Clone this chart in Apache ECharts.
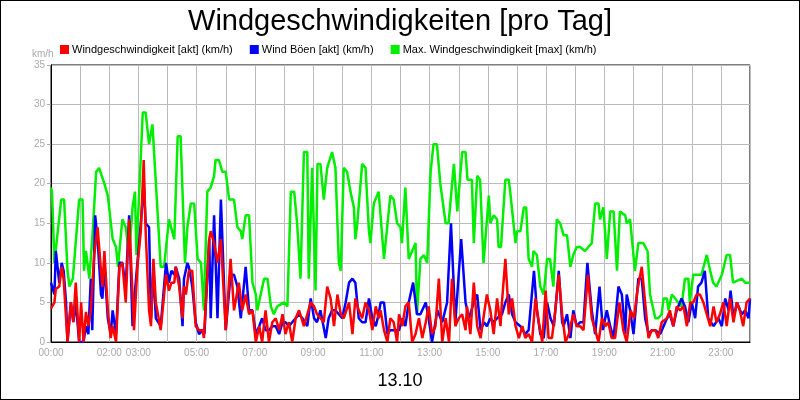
<!DOCTYPE html>
<html><head><meta charset="utf-8">
<script src="https://cdn.jsdelivr.net/npm/echarts@6/dist/echarts.min.js"></script>
<style>html,body{margin:0;padding:0}#c{width:798px;height:398px;border:1px solid #000}</style>
</head><body><div id="c"></div>
<script>
// minute of day, value (km/h)
const maxWind = [[0,19.5],[2,19],[7,10],[21,18],[27,18],[34,9],[38,7],[45,8],[48,8],[58,18],[65,18],[68,9],[72,11.5],[79,8],[86,14],[93,21.5],[99,22],[110,20],[117,18.5],[127,13],[134,12],[138,9.5],[147,15.5],[154,14.5],[161,11],[168,17],[173,19],[176,11],[189,29],[195,29],[202,25],[209,27.5],[219,17],[226,9.5],[233,9.5],[243,15.5],[247,15.5],[254,13],[261,26],[267,26],[276,10],[281,14.5],[288,17.5],[295,17.5],[302,10.5],[309,10],[315,4],[322,19],[329,19.5],[336,21],[339,23],[346,23],[353,21.5],[360,21.5],[367,18],[377,18],[384,14.5],[391,14],[394,13],[401,16],[408,16],[415,7.5],[422,6],[425,4],[432,6],[439,8],[446,8],[453,4.5],[459,3.5],[466,4.5],[480,5],[487,4.5],[494,19],[501,19],[507,15],[514,8],[521,24],[528,24],[531,8],[538,22],[542,22],[545,6.5],[549,22.5],[555,22.5],[562,18],[569,22],[579,24],[586,22],[593,10],[597,9],[603,22],[610,21.5],[617,19],[624,17],[627,13],[631,15],[641,22.5],[648,22],[655,14],[658,12.5],[665,17.5],[675,19],[686,10.5],[699,18.5],[706,18],[713,15],[720,14.5],[723,12.5],[730,19.5],[737,10.5],[741,10.5],[751,12.5],[754,3.5],[761,10.5],[768,11],[775,10],[782,21.5],[788,25],[795,25],[802,20],[813,15],[819,15],[830,22.5],[837,16.5],[847,24],[854,24],[858,20.5],[867,20.5],[871,12.5],[878,21],[884,20.5],[891,10],[902,18.5],[905,15],[912,16],[919,15.5],[922,12],[927,12],[936,20.5],[943,20.5],[946,19],[957,12.5],[960,14],[967,14],[974,17],[979,17],[984,10.5],[991,9.5],[994,11.5],[1001,11],[1008,7],[1015,6],[1022,10.5],[1028,10.5],[1035,7],[1042,15.5],[1049,15],[1056,13.5],[1063,13.5],[1070,9.5],[1076,11],[1083,12],[1090,12],[1100,11.5],[1107,12],[1114,12.5],[1121,17.5],[1128,17.5],[1131,15.5],[1138,17],[1145,10.5],[1152,16.5],[1159,16.5],[1166,9],[1172,16.5],[1183,16],[1186,15],[1193,15.5],[1203,9],[1210,12.5],[1220,12.5],[1229,11.5],[1234,6],[1245,3],[1251,3],[1258,3.5],[1262,5.5],[1269,5.5],[1272,4],[1279,6],[1286,5.5],[1292,5],[1299,4.5],[1306,8],[1313,8],[1316,5],[1323,8.5],[1340,8.5],[1351,11],[1358,9],[1364,7.5],[1371,7],[1382,8.5],[1392,11],[1399,11],[1405,7.5],[1423,8],[1430,7.5],[1440,7.5]];
const gust = [[0,7.5],[7,6],[10,11.5],[17,7.5],[22,10],[26,9],[31,5],[34,0],[41,5],[46,2.5],[51,5],[58,0],[67,0],[72,2],[77,1],[82,8],[85,1.5],[91,16],[96,13],[103,6],[106,5.5],[110,10],[117,3],[123,1],[127,4],[134,1],[141,10],[147,10],[154,7],[161,16],[168,2],[171,5],[178,10],[185,15],[191,20],[195,15],[202,14.5],[206,3],[211,9],[216,3],[226,2],[237,10],[243,7.5],[248,9],[254,8.5],[257,9.5],[264,8],[271,2],[274,8],[281,10],[284,9.5],[291,7],[298,2.5],[305,1],[312,1.5],[316,1],[326,13],[329,3],[336,16],[343,3],[350,18],[360,1.5],[370,8.5],[377,8.5],[384,7],[391,3],[401,9.5],[408,4],[415,4],[422,1],[429,2],[435,3],[442,1.5],[449,1.5],[456,2],[463,2],[470,1],[477,2.5],[483,2.5],[490,2],[497,2.5],[504,3],[511,3.5],[518,3],[528,2],[535,5.5],[542,3],[548,2.5],[555,4],[566,0.5],[572,3],[579,4],[586,4],[593,3.5],[600,3],[607,5],[614,7.5],[621,8],[627,7.5],[634,3],[641,2.5],[648,2.5],[655,5.5],[662,3],[669,2],[675,3.5],[679,5],[686,5],[693,1],[699,1.5],[710,1.5],[717,1.5],[724,3],[730,2],[737,5],[746,7.5],[754,3.5],[761,3.5],[772,5],[778,3],[785,0],[796,4],[806,2.5],[816,5],[824,15],[833,2.5],[845,13],[854,5],[861,3],[871,5],[878,6],[885,1.5],[892,2.5],[898,2],[905,3],[912,2.5],[919,3],[929,3.5],[936,5],[943,6],[950,3.5],[957,2.5],[967,2],[977,1],[984,1.5],[995,9],[1001,4],[1008,1],[1015,0.5],[1022,5],[1029,3],[1036,2],[1046,9],[1053,2.5],[1056,2],[1063,3.5],[1070,0.5],[1076,4],[1083,2],[1090,2.5],[1097,2.5],[1105,10],[1114,4],[1121,1],[1130,7],[1137,1.5],[1145,4],[1152,2],[1159,0.5],[1169,7],[1176,6],[1183,1],[1186,6],[1193,4],[1200,1],[1210,8],[1217,8],[1224,3],[1231,1],[1238,1.5],[1245,1.5],[1255,1],[1262,2],[1269,3],[1275,3.5],[1282,2],[1289,4],[1299,5.5],[1306,4.5],[1313,2.5],[1320,5],[1327,3],[1333,7],[1340,7.5],[1347,9],[1354,3],[1365,2],[1375,3],[1382,2],[1389,5.5],[1396,4],[1400,6.5],[1406,3],[1413,5],[1423,3.5],[1430,4],[1437,3],[1440,5.5]];
const speed = [[0,4.2],[7,5],[10,6.7],[17,7],[22,9.5],[26,8],[34,0],[41,5],[46,2.5],[51,7.5],[58,0],[62,5],[67,0],[72,3.8],[77,2],[82,4],[89,11],[96,14.5],[103,9],[106,7],[110,11.5],[117,4],[123,0.5],[127,2],[134,0],[141,9.5],[147,10],[154,5],[161,15.5],[168,6],[171,1.5],[178,9.5],[182,9.5],[185,14],[191,23],[195,14],[202,4],[206,2],[211,10.5],[216,5],[226,1.5],[237,8.5],[243,6.5],[248,7.5],[254,7.5],[257,9.5],[264,7],[271,3],[274,7],[278,6],[284,9],[291,9],[298,2],[305,1.5],[312,1.5],[315,0.5],[326,13],[329,14],[336,12.5],[343,10],[350,13],[360,1.5],[370,10.5],[377,4],[387,7.5],[394,4],[401,6],[408,3.5],[415,4],[422,0],[429,2],[435,0],[442,4],[449,0],[456,2.5],[463,3],[470,1.5],[477,3.5],[483,1],[490,2.5],[497,0],[504,3],[511,4],[521,2],[528,3.5],[535,5],[542,4.5],[548,3.5],[555,3],[562,2.5],[569,7],[576,5.5],[583,2],[590,6],[597,3.5],[603,3],[614,5],[621,1],[627,5.5],[634,4],[641,3],[648,5],[655,4],[662,1.5],[669,4.5],[675,3],[679,4],[686,1.5],[693,0],[699,3],[706,2.5],[713,0],[717,3.5],[724,2],[730,4.5],[737,5],[744,0],[751,1],[758,3],[765,0.5],[772,2.5],[778,4.5],[785,1],[792,2],[799,8],[806,0],[813,3],[820,0],[826,8],[833,2],[840,3],[847,3.5],[854,1.5],[857,4.5],[864,1],[871,7.5],[878,2],[885,0.5],[892,3.5],[898,6],[905,4],[912,1],[919,5.5],[926,2],[929,5],[936,10.5],[943,3.5],[950,5.5],[957,2],[964,0.5],[971,2],[977,0.5],[984,1],[991,0],[998,5.5],[1005,2.5],[1012,0],[1019,6.5],[1025,0.5],[1032,0.5],[1039,4],[1046,8.5],[1053,3.5],[1060,0],[1067,1],[1070,2],[1076,3.5],[1083,2],[1090,2],[1097,1.5],[1106,8.5],[1114,3],[1121,1.5],[1128,0],[1135,3],[1142,2],[1148,2.5],[1155,0.5],[1162,0.5],[1171,5],[1179,1.5],[1186,0],[1194,4],[1201,3],[1208,6.5],[1217,9.5],[1224,5],[1231,0.5],[1238,1.5],[1245,1.5],[1251,0.5],[1258,2.5],[1269,3],[1275,4],[1282,2],[1289,4.5],[1296,4],[1303,4.5],[1310,2],[1317,5],[1323,5],[1330,6],[1337,6],[1344,5],[1351,3.5],[1358,2],[1365,4.5],[1371,2.5],[1378,3.5],[1385,5],[1392,2],[1399,5.5],[1406,2.5],[1413,5],[1419,4],[1426,2],[1433,5],[1440,5.5]];
const labelHours = [0,2,3,5,7,9,11,13,15,17,19,21,23];
const seriesNames = ['Windgeschwindigkeit [akt] (km/h)','Wind Böen [akt] (km/h)','Max. Windgeschwindigkeit [max] (km/h)'];
const colors = ['#ff0000','#0000ff','#00ee00'];

const chart = echarts.init(document.getElementById('c'));
const mk = (name, data, color) => ({name, type:'line', data, showSymbol:false, symbol:'rect',
  lineStyle:{width:2.5,color}, itemStyle:{color}, animation:false});
chart.setOption({
  animation:false,
  backgroundColor:'#fff',
  title:[{text:'Windgeschwindigkeiten [pro Tag]',left:'center',top:1,
    textStyle:{fontSize:29,fontWeight:'normal',color:'#000',fontFamily:'Liberation Sans'}},
    {text:'13.10',left:'center',top:366,textStyle:{fontSize:18,fontWeight:'normal',color:'#000',fontFamily:'Liberation Sans'}},
    {text:'km/h',left:26,top:43,textStyle:{fontSize:10,fontWeight:'normal',color:'#aaa',fontFamily:'Liberation Sans'}}],
  legend:{data:seriesNames,top:38,left:54,itemWidth:9,itemHeight:9,itemGap:17,icon:'rect',
    textStyle:{fontSize:11,color:'#000',fontFamily:'Liberation Sans',padding:[0,0,0,-2]}},
  grid:{left:50,right:49,top:64,bottom:57,show:true,borderColor:'#000',borderWidth:1},
  xAxis:{type:'value',min:0,max:1440,interval:60,
    axisLine:{lineStyle:{color:'#000'}},axisTick:{show:false},
    splitLine:{show:true,lineStyle:{color:'#bbb',width:1}},
    axisLabel:{color:'#aaa',fontSize:10,fontFamily:'Liberation Sans',margin:6,
      formatter:v=>{const h=v/60;return labelHours.includes(h)?String(h).padStart(2,'0')+':00':'';}}},
  yAxis:{type:'value',min:0,max:35,interval:5,
    axisLine:{show:true,lineStyle:{color:'#000'}},axisTick:{show:true,length:4,lineStyle:{color:'#aaa'}},
    splitLine:{lineStyle:{color:'#bbb',width:1}},
    axisLabel:{color:'#aaa',fontSize:10,fontFamily:'Liberation Sans',margin:6}},
  series:[mk(seriesNames[2],maxWind,colors[2]),mk(seriesNames[1],gust,colors[1]),mk(seriesNames[0],speed,colors[0])]
});
</script></body></html>
